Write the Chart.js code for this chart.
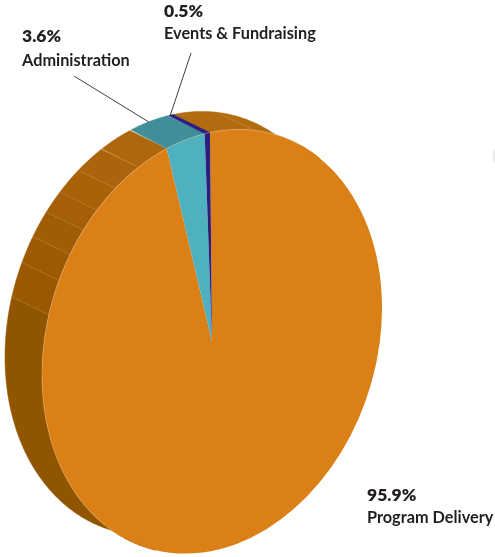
<!DOCTYPE html>
<html>
<head>
<meta charset="utf-8">
<style>
  html, body { margin: 0; padding: 0; background: #fff; }
  #wrap { position: relative; width: 495px; height: 557px; overflow: hidden; }
  #tick { position: absolute; left: 493px; top: 149px; width: 2px; height: 14px; background: #ececec; }
</style>
<script src="https://cdn.jsdelivr.net/npm/chart.js@4"></script>
</head>
<body>
<div id="wrap">
  <canvas id="pie" width="495" height="557"></canvas>
  <div id="tick"></div>
</div>
<script>
var categories = ['Program Delivery', 'Administration', 'Events & Fundraising'];
var values = [95.9, 3.6, 0.5];
var topColors = ['#DA8017', '#4FB0BF', '#2A1F7F'];
var sideColors = ['#A96209', '#3F8E9A', '#2A1F7F'];

// where each label sits, and where its leader line starts (null = no line)
var labelPos = [[367, 501, 523], [22, 42, 66], [164, 17, 39]];
var leaderFrom = [null, [74, 76], [191, 53]];

// side wall of the big slice, degrees clockwise from the top
var facetEdges = [0, 15, 40, 200, 287, 296.5, 304, 311.5, 318, 326, 335, 346];
var facetColors = ['#B26C10', '#B26C10', null, '#915500', '#9A5801', '#9D5A03', '#A15D05', '#A56007', '#A86208', '#AB640B', '#AF670D'];

// circle -> tilted ellipse, and the depth of the wall
var tilt = { xx: 170, xy: 2, yx: -36, yy: 209 };
var depth = [-37, -18];

function ringPoint(el, deg, dx, dy) {
  var t = deg * Math.PI / 180, s = Math.sin(t), c = Math.cos(t);
  return [
    el.x + tilt.xx * s - tilt.xy * c + (dx || 0),
    el.y + tilt.yx * s - tilt.yy * c + (dy || 0)
  ];
}

function drawWall(ctx, el, from, to, color) {
  ctx.beginPath();
  var d;
  for (d = from; d <= to; d += 0.5) {
    var p = ringPoint(el, d);
    ctx.lineTo(p[0], p[1]);
  }
  var e = ringPoint(el, to);
  ctx.lineTo(e[0], e[1]);
  e = ringPoint(el, to, depth[0], depth[1]);
  ctx.lineTo(e[0], e[1]);
  for (d = to; d >= from; d -= 0.5) {
    var q = ringPoint(el, d, depth[0], depth[1]);
    ctx.lineTo(q[0], q[1]);
  }
  ctx.closePath();
  ctx.fillStyle = color;
  ctx.strokeStyle = color;
  ctx.lineWidth = 0.5;
  ctx.fill();
  ctx.stroke();
}

function seam(ctx, el, deg) {
  var a = ringPoint(el, deg), b = ringPoint(el, deg, depth[0], depth[1]);
  ctx.beginPath();
  ctx.moveTo(a[0], a[1]);
  ctx.lineTo(b[0], b[1]);
  ctx.strokeStyle = 'rgba(228,176,116,0.5)';
  ctx.lineWidth = 0.6;
  ctx.setLineDash([1.5, 1]);
  ctx.stroke();
  ctx.setLineDash([]);
}

function sliceDegrees(el) {
  return [(el.startAngle + Math.PI / 2) * 180 / Math.PI, (el.endAngle + Math.PI / 2) * 180 / Math.PI];
}

var pie3d = {
  id: 'pie3d',
  beforeDatasetDraw: function (chart) {
    var ctx = chart.ctx, arcs = chart.getDatasetMeta(0).data, el = arcs[0];
    ctx.save();
    facetColors.forEach(function (color, i) {
      if (color) drawWall(ctx, el, facetEdges[i], Math.min(facetEdges[i + 1], sliceDegrees(el)[1]), color);
    });
    [1, 2].forEach(function (i) {
      var r = sliceDegrees(arcs[i]);
      drawWall(ctx, el, r[0], r[1], sideColors[i]);
    });
    [15, 287, 296.5, 304, 311.5, 318, 326, 335, sliceDegrees(el)[1]].forEach(function (d) {
      seam(ctx, el, d);
    });
    ctx.restore();

    // top face: the library's arcs, pushed through the same tilt
    var r = el.outerRadius;
    ctx.save();
    ctx.transform(tilt.xx / r, tilt.yx / r, tilt.xy / r, tilt.yy / r,
      el.x - (tilt.xx * el.x + tilt.xy * el.y) / r,
      el.y - (tilt.yx * el.x + tilt.yy * el.y) / r);
  },
  afterDatasetDraw: function (chart) {
    var ctx = chart.ctx, el = chart.getDatasetMeta(0).data[0];
    ctx.restore();

    // pale rim along the edge that meets the wall
    ctx.save();
    ctx.beginPath();
    for (var d = 212; d <= 392; d += 1) {
      var p = ringPoint(el, d);
      ctx.lineTo(p[0], p[1]);
    }
    ctx.strokeStyle = 'rgba(245,208,160,0.6)';
    ctx.lineWidth = 0.6;
    ctx.stroke();
    ctx.restore();
  },
  afterDraw: function (chart) {
    var ctx = chart.ctx, arcs = chart.getDatasetMeta(0).data, el = arcs[0];
    ctx.save();
    categories.forEach(function (name, i) {
      if (leaderFrom[i]) {
        var r = sliceDegrees(arcs[i]);
        var end = ringPoint(el, (r[0] + r[1]) / 2, depth[0], depth[1]);
        ctx.beginPath();
        ctx.moveTo(leaderFrom[i][0], leaderFrom[i][1]);
        ctx.lineTo(end[0], end[1]);
        ctx.strokeStyle = '#2b2b2b';
        ctx.lineWidth = 0.9;
        ctx.stroke();
      }
      ctx.fillStyle = '#231F20';
      ctx.textBaseline = 'alphabetic';
      ctx.font = '800 17.5px Lato';
      ctx.fillText(values[i].toFixed(1) + '%', labelPos[i][0], labelPos[i][1]);
      ctx.font = '700 16.3px Lato';
      ctx.fillText(name, labelPos[i][0], labelPos[i][2]);
    });
    ctx.restore();
  }
};

new Chart(document.getElementById('pie'), {
  type: 'pie',
  data: {
    labels: categories,
    datasets: [{
      data: values,
      backgroundColor: topColors,
      borderWidth: 0,
      clip: false
    }]
  },
  options: {
    responsive: false,
    animation: false,
    layout: { padding: { left: 42, right: 113, top: 130, bottom: 4 } },
    plugins: {
      legend: { display: false },
      tooltip: { enabled: false }
    }
  },
  plugins: [pie3d]
});
</script>
</body>
</html>
